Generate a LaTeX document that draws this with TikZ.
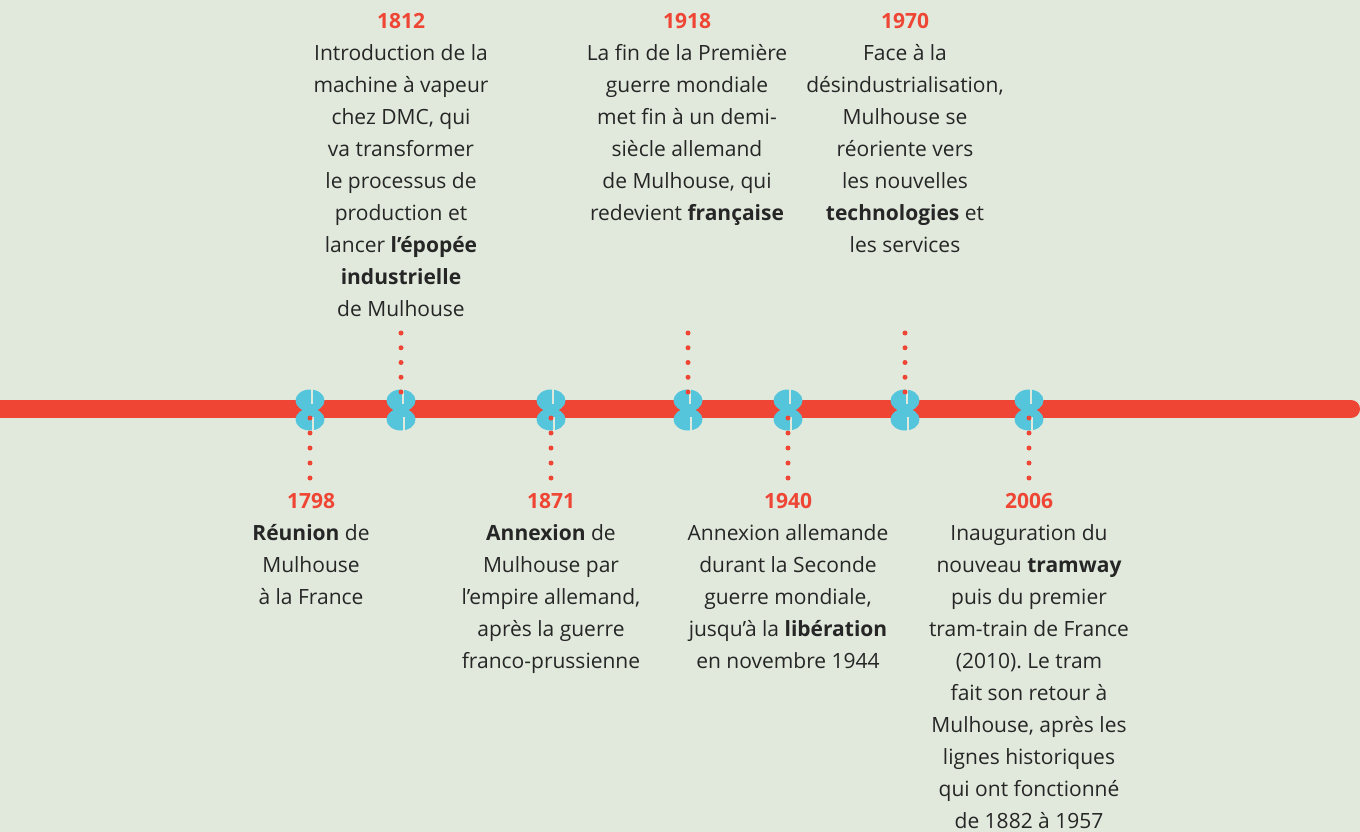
\documentclass[tikz,border=0pt]{standalone}
\usepackage{fontspec}
\setmainfont{Open Sans}
\frenchspacing
\definecolor{bgc}{HTML}{E1E9DC}
\definecolor{redc}{HTML}{EF4535}
\definecolor{bluec}{HTML}{55C5DC}
\definecolor{txtc}{HTML}{262626}
\tikzset{
  evt/.style={align=center, inner sep=0pt, text=txtc, font=\fontsize{21}{32}\selectfont},
  dots/.style={draw=redc, line width=5pt, line cap=round, dash pattern=on 0pt off 14.75pt},
  mk/.pic={
    \fill[bluec] (0,-9.5) ellipse [x radius=14.5, y radius=11];
    \fill[bluec] (0,9.5) ellipse [x radius=14.5, y radius=11];
    \fill[bluec] (-6,-3) rectangle (6,3);
    \fill[bgc] (0.6,-22) rectangle (2.6,-6);
    \fill[bgc] (1.6,7) rectangle (3.6,22);
  }
}
\newcommand{\yr}[1]{\textcolor{redc}{\bfseries #1}}
\begin{document}
\begin{tikzpicture}[x=1pt,y=-1pt]
\fill[bgc] (0,0) rectangle (1360,832);
\useasboundingbox (0,0) rectangle (1360,832);
% timeline
\draw[redc, line width=18pt, line cap=round] (-20,409) -- (1351,409);
% markers
\foreach \n/\x in {1798/310,1812/401,1871/551,1918/688,1940/788,1970/905,2006/1029}{
  \pic at (\x,410) {mk};
  \node[inner sep=0pt, minimum size=0pt] (m\n) at (\x,410) {};
}
% upper texts
\node[evt, anchor=north] (t1812) at (401,13) {\yr{1812}\\Introduction de la\\machine à vapeur\\chez DMC, qui\\va transformer\\le processus de\\production et\\lancer \textbf{l’épopée}\\\textbf{industrielle}\\de Mulhouse};
\node[evt, anchor=north] (t1918) at (687,13) {\yr{1918}\\La fin de la Première\\guerre mondiale\\met fin à un demi-\\siècle allemand\\de Mulhouse, qui\\redevient \textbf{française}};
\node[evt, anchor=north] (t1970) at (905,13) {\yr{1970}\\Face à la\\désindustrialisation,\\Mulhouse se\\réoriente vers\\les nouvelles\\\textbf{technologies} et\\les services};
% lower texts
\node[evt, anchor=north] (t1798) at (311,493) {\yr{1798}\\\textbf{Réunion} de\\Mulhouse\\à la France};
\node[evt, anchor=north] (t1871) at (551,493) {\yr{1871}\\\textbf{Annexion} de\\Mulhouse par\\l’empire allemand,\\après la guerre\\franco-prussienne};
\node[evt, anchor=north] (t1940) at (788,493) {\yr{1940}\\Annexion allemande\\durant la Seconde\\guerre mondiale,\\jusqu’à la \textbf{libération}\\en novembre 1944};
\node[evt, anchor=north] (t2006) at (1029,493) {\yr{2006}\\Inauguration du\\nouveau \textbf{tramway}\\puis du premier\\tram-train de France\\(2010). Le tram\\fait son retour à\\Mulhouse, après les\\lignes historiques\\qui ont fonctionné\\de 1882 à 1957};
% dotted connectors
\foreach \n/\x in {1812/401,1918/688,1970/905}{
  \coordinate (a\n) at (\x,333);
  \coordinate (b\n) at (\x,392);
  \draw[dots] (a\n) -- (b\n);
}
\foreach \n/\x in {1798/310,1871/551,1940/788,2006/1029}{
  \coordinate (a\n) at (\x,418);
  \coordinate (b\n) at (\x,478);
  \draw[dots, dash pattern=on 0pt off 15pt] (a\n) -- (b\n);
}
\end{tikzpicture}
\end{document}
